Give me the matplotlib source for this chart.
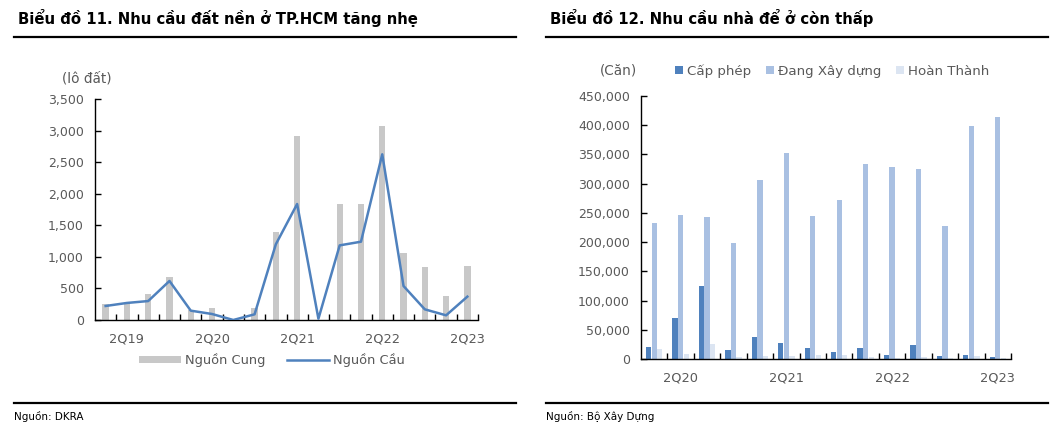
import matplotlib
matplotlib.use("Agg")
import matplotlib.pyplot as plt
from matplotlib.patches import Patch
from matplotlib.lines import Line2D
import numpy as np

plt.rcParams['font.family'] = ['DejaVu Sans']

# ---------------- data ----------------
quarters_left = ["1Q19", "2Q19", "3Q19", "4Q19", "1Q20", "2Q20", "3Q20", "4Q20",
                 "1Q21", "2Q21", "3Q21", "4Q21", "1Q22", "2Q22", "3Q22", "4Q22",
                 "1Q23", "2Q23"]
supply = [250, 275, 410, 680, 155, 195, 0, 190, 1390, 2915, 0, 1840, 1840, 3080,
          1055, 840, 380, 860]
demand = [222, 270, 300, 618, 148, 95, 0, 90, 1200, 1837, 20, 1182, 1240, 2624,
          538, 169, 74, 370]
left_tick_labels = ["2Q19", "2Q20", "2Q21", "2Q22", "2Q23"]

quarters_right = ["1Q20", "2Q20", "3Q20", "4Q20", "1Q21", "2Q21", "3Q21", "4Q21",
                  "1Q22", "2Q22", "3Q22", "4Q22", "1Q23", "2Q23"]
cap_phep = [21000, 70500, 125700, 16500, 38100, 27900, 19900, 13100, 19300, 7400,
            25000, 6300, 8000, 4000]
dang_xd = [233000, 246900, 243500, 198500, 306600, 352700, 245200, 271900, 332800,
           327700, 325400, 228100, 398800, 413600]
hoan_thanh = [18000, 9700, 26200, 4500, 5700, 5000, 7400, 6800, 4500, 1500,
              3400, 2800, 6300, 1700]
right_tick_labels = ["2Q20", "2Q21", "2Q22", "2Q23"]

# ---------------- figure ----------------
W, H = 1051, 438
fig = plt.figure(figsize=(W / 100, H / 100), dpi=100)

def fx(px):
    return px / W

def fy(py):
    return 1 - py / H

grey = "#595959"
line_blue = "#4F81BD"

# titles and rules
fig.text(fx(18), fy(18), "Biểu đồ 11. Nhu cầu đất nền ở TP.HCM tăng nhẹ",
         fontsize=10.7, fontweight="bold", va="center", ha="left")
fig.text(fx(550), fy(18), "Biểu đồ 12. Nhu cầu nhà để ở còn thấp",
         fontsize=10.7, fontweight="bold", va="center", ha="left")
for x0, x1 in [(14, 516), (546, 1048)]:
    for yy in (37, 403):
        fig.add_artist(Line2D([fx(x0), fx(x1)], [fy(yy), fy(yy)], color="black",
                              lw=1.6, transform=fig.transFigure))
fig.text(fx(14), fy(416), "Nguồn: DKRA", fontsize=7.5, va="center", ha="left")
fig.text(fx(546), fy(416), "Nguồn: Bộ Xây Dựng", fontsize=7.5, va="center", ha="left")

def style_axes(ax):
    for s in ("top", "right"):
        ax.spines[s].set_visible(False)
    for s in ("left", "bottom"):
        ax.spines[s].set_color("black")
        ax.spines[s].set_linewidth(1.0)
    ax.tick_params(axis="y", direction="in", length=4, width=1, colors="black",
                   labelcolor=grey, labelsize=9, pad=8)
    ax.tick_params(axis="x", which="both", length=0, labelcolor=grey, labelsize=9.3, pad=9)

# ---------------- left chart ----------------
axL = fig.add_axes([fx(95), fy(320), fx(478) - fx(95), fy(99) - fy(320)])
xl = np.arange(len(quarters_left))
axL.bar(xl, supply, width=0.3, color="#C8C8C8", zorder=2)
axL.plot(xl, demand, color=line_blue, lw=1.8, zorder=3)
axL.set_xlim(-0.5, len(quarters_left) - 0.5)
axL.set_ylim(0, 3500)
axL.set_yticks(np.arange(0, 3501, 500))
axL.set_yticklabels([f"{v:,}" for v in range(0, 3501, 500)])
style_axes(axL)
axL.set_xticks([quarters_left.index(q) for q in left_tick_labels])
axL.set_xticklabels(left_tick_labels)
axL.set_xticks(np.arange(0.5, len(quarters_left) - 0.5 + 0.01, 1), minor=True)
axL.tick_params(axis="x", which="minor", direction="in", length=4, width=1, colors="black")
fig.text(fx(62), fy(79), "(lô đất)", fontsize=9.8, color=grey, va="center", ha="left")
hL = [Patch(facecolor="#C8C8C8", edgecolor="none"),
      Line2D([0], [0], color=line_blue, lw=1.8)]
fig.legend(hL, ["Nguồn Cung", "Nguồn Cầu"], loc="center", ncol=2,
           bbox_to_anchor=(fx(272), fy(360)), frameon=False, fontsize=9.4,
           labelcolor=grey, handlelength=3.2, handleheight=0.5, handletextpad=0.3,
           columnspacing=1.7)

# ---------------- right chart ----------------
axR = fig.add_axes([fx(641), fy(359.3), fx(1011) - fx(641), fy(95.7) - fy(359.3)])
xr = np.arange(len(quarters_right))
bw = 0.2
c1, c2, c3 = "#4F81BD", "#A9C0E2", "#DCE5F2"
axR.bar(xr - 0.21, cap_phep, width=bw, color=c1, zorder=2)
axR.bar(xr, dang_xd, width=bw, color=c2, zorder=2)
axR.bar(xr + 0.21, hoan_thanh, width=bw, color=c3, zorder=2)
axR.set_xlim(-0.5, len(quarters_right) - 0.5)
axR.set_ylim(0, 450000)
axR.set_yticks(np.arange(0, 450001, 50000))
axR.set_yticklabels([f"{v:,}" for v in range(0, 450001, 50000)])
style_axes(axR)
axR.set_xticks([quarters_right.index(q) for q in right_tick_labels])
axR.set_xticklabels(right_tick_labels)
axR.set_xticks(np.arange(0.5, len(quarters_right) - 0.5 + 0.01, 1), minor=True)
axR.tick_params(axis="x", which="minor", direction="in", length=4, width=1, colors="black")
fig.text(fx(600), fy(71), "(Căn)", fontsize=9.8, color=grey, va="center", ha="left")
hR = [Patch(facecolor=c, edgecolor="none") for c in (c1, c2, c3)]
fig.legend(hR, ["Cấp phép", "Đang Xây dựng", "Hoàn Thành"], loc="center", ncol=3,
           bbox_to_anchor=(fx(832), fy(71)), frameon=False, fontsize=9.6,
           labelcolor=grey, handlelength=0.6, handleheight=0.6, handletextpad=0.3,
           columnspacing=1.1)

fig.savefig("out.png", dpi=100)
